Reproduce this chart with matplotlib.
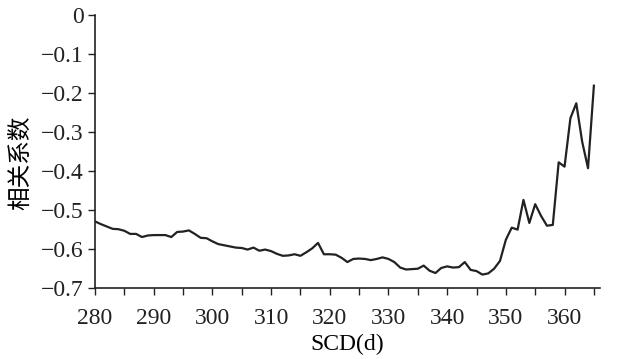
import numpy as np
import matplotlib
matplotlib.use('Agg')
import matplotlib.pyplot as plt

# days (SCD) and correlation coefficient
scd = np.arange(280, 366)
corr = [-0.529, -0.536, -0.542, -0.548, -0.549, -0.553, -0.561, -0.561, -0.569, -0.565,
        -0.564, -0.564, -0.564, -0.569, -0.556, -0.555, -0.552, -0.561, -0.571, -0.572,
        -0.580, -0.587, -0.590, -0.593, -0.596, -0.597, -0.601, -0.596, -0.604, -0.601,
        -0.605, -0.612, -0.617, -0.616, -0.613, -0.617, -0.608, -0.598, -0.584, -0.613,
        -0.613, -0.614, -0.622, -0.633, -0.625, -0.624, -0.625, -0.628, -0.625, -0.621,
        -0.625, -0.633, -0.647, -0.652, -0.651, -0.650, -0.642, -0.655, -0.661, -0.648,
        -0.644, -0.647, -0.646, -0.633, -0.653, -0.656, -0.665, -0.662, -0.650, -0.630,
        -0.576, -0.545, -0.550, -0.474, -0.533, -0.485, -0.515, -0.540, -0.538, -0.378,
        -0.389, -0.265, -0.227, -0.325, -0.393, -0.182]

xticks = np.arange(280, 366, 5)
xlabels = [str(t) if t % 10 == 0 else '' for t in xticks]
yticks = np.arange(-0.7, 0.01, 0.1)
ylabels = ['0' if abs(t) < 1e-9 else '\u2212%.1f' % abs(t) for t in yticks]

plt.rcParams['font.family'] = ['Liberation Serif', 'DejaVu Serif']

fig = plt.figure(figsize=(6.3, 3.59), dpi=100)
ax = fig.add_axes([0.1508, 0.197, 0.8012, 0.7626])
ax.plot(scd, corr, color='#222222', lw=1.6)

ax.set_xlim(280, 366)
ax.set_ylim(-0.7, 0)
ax.set_xticks(xticks)
ax.set_xticklabels(xlabels, fontsize=17)
ax.set_yticks(yticks)
ax.set_yticklabels(ylabels, fontsize=17)
ax.tick_params(direction='out', length=5, width=1, pad=3, colors='#222222')
ax.tick_params(axis='x', pad=9)

for s in ['top', 'right']:
    ax.spines[s].set_visible(False)
for s in ['left', 'bottom']:
    ax.spines[s].set_color('#222222')
    ax.spines[s].set_linewidth(1.2)

ax.set_xlabel('SCD(d)', fontsize=17, labelpad=4)
ax.set_ylabel('相关系数', fontsize=17, family=['Noto Sans CJK SC', 'DejaVu Sans'])
ax.yaxis.set_label_coords(-0.125, 0.46)

fig.savefig('out.png', dpi=100)
